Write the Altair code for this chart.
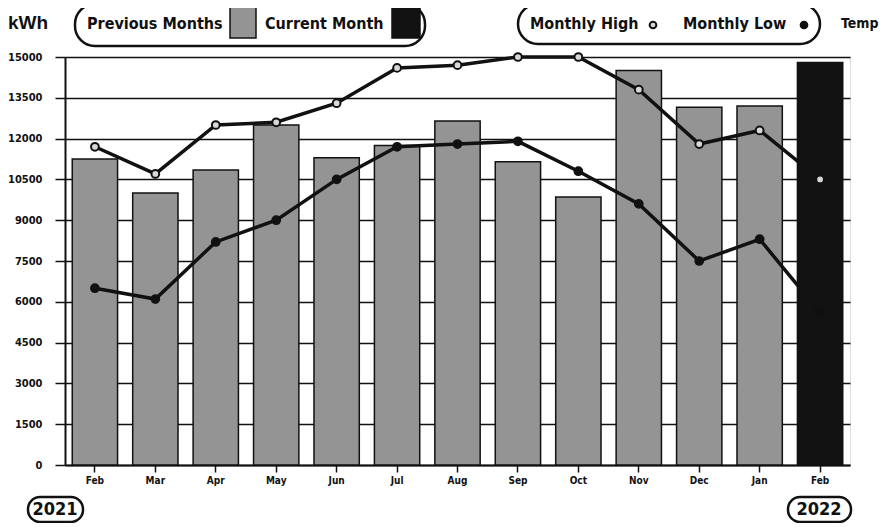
import altair as alt
import pandas as pd

months = ["Feb", "Mar", "Apr", "May", "Jun", "Jul", "Aug", "Sep", "Oct", "Nov", "Dec", "Jan", "Feb"]
years = [2021, 2021, 2021, 2021, 2021, 2021, 2021, 2021, 2021, 2021, 2021, 2022, 2022]
kwh = [11250, 10000, 10850, 12500, 11300, 11750, 12650, 11150, 9850, 14500, 13150, 13200, 14800]
temp_high = [73.5, 68.5, 77.5, 78, 81.5, 88, 88.5, 90, 90, 84, 74, 76.5, 67.5]
temp_low = [47.5, 45.5, 56, 60, 67.5, 73.5, 74, 74.5, 69, 63, 52.5, 56.5, 43]
period = ["Previous Months"] * 12 + ["Current Month"]
kwh_ticks = list(range(0, 15001, 1500))
temp_ticks = [15, 22.5, 30, 37.5, 45, 52.5, 60, 67.5, 75, 82.5, 90]

keys = [f"{m} {y}" for m, y in zip(months, years)]
bars_df = pd.DataFrame({"key": keys, "kwh": kwh, "period": period})
temp_df = pd.DataFrame({
    "key": keys * 2,
    "temp": temp_high + temp_low,
    "series": ["Monthly High"] * len(keys) + ["Monthly Low"] * len(keys),
})

NARROW = "DejaVu Sans Condensed, DejaVu Sans, sans-serif"
SANS = "Liberation Sans, Arial, sans-serif"
INK = "#111111"
GRAY = "#949494"

x_enc = alt.X(
    "key:N", sort=keys, title=None,
    scale=alt.Scale(paddingInner=0.25, paddingOuter=0.12),
    axis=alt.Axis(labelExpr="slice(datum.label, 0, 3)", labelAngle=0,
                  labelFont=NARROW, labelFontWeight="bold", labelFontSize=10,
                  labelColor=INK, labelPadding=3, tickSize=7, tickWidth=1.5,
                  tickColor=INK, domainColor=INK, domainWidth=2, grid=False),
)

bars = alt.Chart(bars_df).mark_bar(stroke=INK, strokeWidth=1.5).encode(
    x=x_enc,
    y=alt.Y("kwh:Q", title=None,
            scale=alt.Scale(domain=[0, 15000], nice=False),
            axis=alt.Axis(orient="left", values=kwh_ticks, format="d", grid=True,
                          gridColor=INK, gridWidth=1.5, gridOpacity=1,
                          tickSize=10, tickWidth=1.5, tickColor=INK,
                          domainColor=INK, domainWidth=2,
                          labelFont=NARROW, labelFontWeight="bold", labelFontSize=11,
                          labelColor=INK, labelPadding=13)),
    color=alt.Color("period:N", legend=None,
                    scale=alt.Scale(domain=["Previous Months", "Current Month"],
                                    range=[GRAY, "#121212"])),
)

temp_y = alt.Y("temp:Q", title=None,
               scale=alt.Scale(domain=[15, 90], nice=False, zero=False),
               axis=alt.Axis(orient="right", values=temp_ticks, grid=False, domain=False,
                             tickSize=6, tickWidth=1.5, tickColor=INK,
                             labelExpr="datum.value == 15 ? '0' : (datum.value == 22.5 ? '15' : (datum.value % 15 == 0 ? datum.label : ''))",
                             labelFont=NARROW, labelFontWeight="bold", labelFontSize=10,
                             labelColor=INK, labelPadding=7))

lines = alt.Chart(temp_df).mark_line(color=INK, strokeWidth=3.5).encode(
    x=alt.X("key:N", sort=keys), y=temp_y, detail="series:N")

points = alt.Chart(temp_df).mark_point(filled=True, size=60, stroke=INK, strokeWidth=2, opacity=1).encode(
    x=alt.X("key:N", sort=keys),
    y=alt.Y("temp:Q", axis=None, scale=alt.Scale(domain=[15, 90], nice=False, zero=False)),
    fill=alt.Fill("series:N", legend=None,
                  scale=alt.Scale(domain=["Monthly High", "Monthly Low"], range=["#d8d8d8", INK])),
)

one = pd.DataFrame({"a": [0]})


def text(label, x, y, font=NARROW, size=16, align="left"):
    return alt.Chart(one).mark_text(text=label, font=font, fontSize=size, fontWeight="bold",
                                    align=align, baseline="middle", color=INK).encode(
        x=alt.value(x), y=alt.value(y))


def box(x1, x2, y1, y2, r=20, fill="white", sw=2.5):
    return alt.Chart(one).mark_rect(cornerRadius=r, fill=fill, stroke=INK, strokeWidth=sw).encode(
        x=alt.value(x1), x2=alt.value(x2), y=alt.value(y1), y2=alt.value(y2))


def dot(x, y, fill):
    return alt.Chart(one).mark_point(filled=True, size=45, fill=fill, stroke=INK, strokeWidth=2, opacity=1).encode(
        x=alt.value(x), y=alt.value(y))


annotations = [
    text("kWh", -57, -34, font=SANS, size=19),
    box(10, 360, -53, -11),
    text("Previous Months", 22, -33),
    box(165, 191, -50, -19, r=0, fill=GRAY, sw=1.5),
    text("Current Month", 200, -33),
    box(327, 355, -50, -19, r=0, fill="#121212", sw=1.5),
    box(453, 755, -53, -13),
    text("Monthly High", 465, -33),
    dot(588, -32, "#d8d8d8"),
    text("Monthly Low", 618, -33),
    dot(739, -32, INK),
    text("Temp", 776, -33, size=14),
    box(-37, 18, 440, 465, r=12),
    text("2021", -10, 453, size=18, align="center"),
    box(723, 786, 440, 465, r=12),
    text("2022", 754, 453, size=18, align="center"),
]

chart = alt.layer(
    bars,
    alt.layer(lines, points),
    *annotations,
).resolve_scale(y="independent", fill="independent").properties(
    width=785, height=408,
    autosize=alt.AutoSizeParams(type="none"),
    padding={"left": 57, "top": 49, "right": 29, "bottom": 58},
).configure_view(stroke=None).configure(background="white")

chart.save("out.html", embed_options={"renderer": "svg", "actions": False})
